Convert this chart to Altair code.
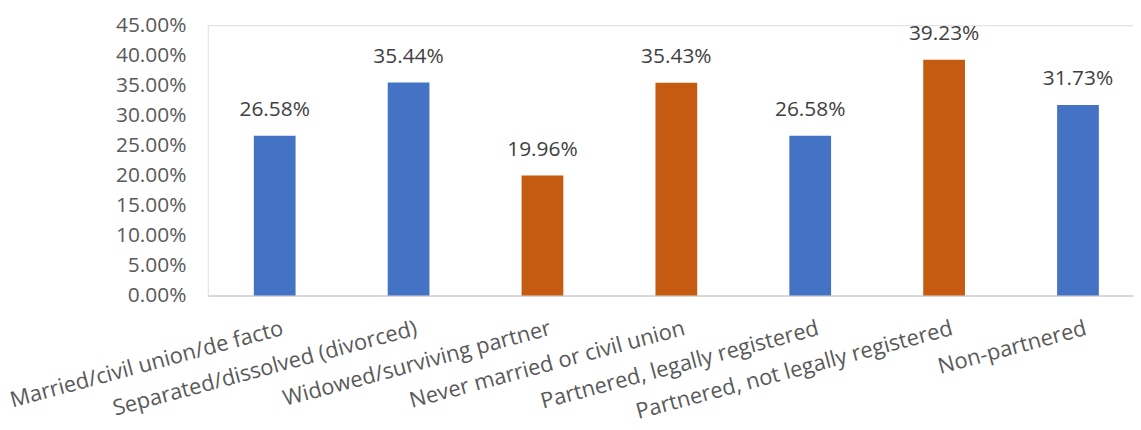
import altair as alt
import pandas as pd

categories = [
    "Married/civil union/de facto",
    "Separated/dissolved (divorced)",
    "Widowed/surviving partner",
    "Never married or civil union",
    "Partnered, legally registered",
    "Partnered, not legally registered",
    "Non-partnered",
]
values = [0.2658, 0.3544, 0.1996, 0.3543, 0.2658, 0.3923, 0.3173]
groups = ["blue", "blue", "orange", "orange", "blue", "orange", "blue"]
y_ticks = [0.0, 0.05, 0.10, 0.15, 0.20, 0.25, 0.30, 0.35, 0.40, 0.45]

df = pd.DataFrame({"category": categories, "value": values, "group": groups})

FONT = "Open Sans"

x = alt.X(
    "category:N",
    sort=categories,
    scale=alt.Scale(range=[0, 943], paddingInner=0, paddingOuter=0),
    axis=alt.Axis(
        title=None,
        labelAngle=345,
        labelAlign="right",
        labelBaseline="middle",
        labelFont=FONT,
        labelFontSize=22,
        labelColor="#595959",
        labelLimit=500,
        labelPadding=32,
        labelOffset=8,
        labelOverlap=False,
        ticks=False,
        domainColor="#D9D9D9",
        domainWidth=2,
        grid=False,
    ),
)
y = alt.Y(
    "value:Q",
    scale=alt.Scale(domain=[0, 0.45], nice=False),
    axis=alt.Axis(
        title=None,
        values=y_ticks,
        format=".2%",
        labelFont=FONT,
        labelFontSize=21,
        labelColor="#595959",
        labelPadding=22,
        labelOverlap=False,
        ticks=False,
        domain=False,
        grid=False,
    ),
)

base = alt.Chart(df).encode(x=x, y=y)

bars = base.mark_bar(size=42).encode(
    color=alt.Color(
        "group:N",
        scale=alt.Scale(domain=["blue", "orange"], range=["#4472C4", "#C55A11"]),
        legend=None,
    ),
)

labels = base.mark_text(
    dy=-26, font=FONT, fontSize=21, color="#404040", baseline="middle"
).encode(
    text=alt.Text("value:Q", format=".2%"),
)

chart = (
    alt.layer(bars, labels)
    .properties(
        width=931,
        height=272,
        autosize=alt.AutoSizeParams(type="none"),
        padding={"left": 201, "top": 16, "right": 0, "bottom": 130},
    )
    .configure_view(stroke=None)
    .configure(background="white")
)

chart.save("out.html", embed_options={"renderer": "svg", "actions": False})
